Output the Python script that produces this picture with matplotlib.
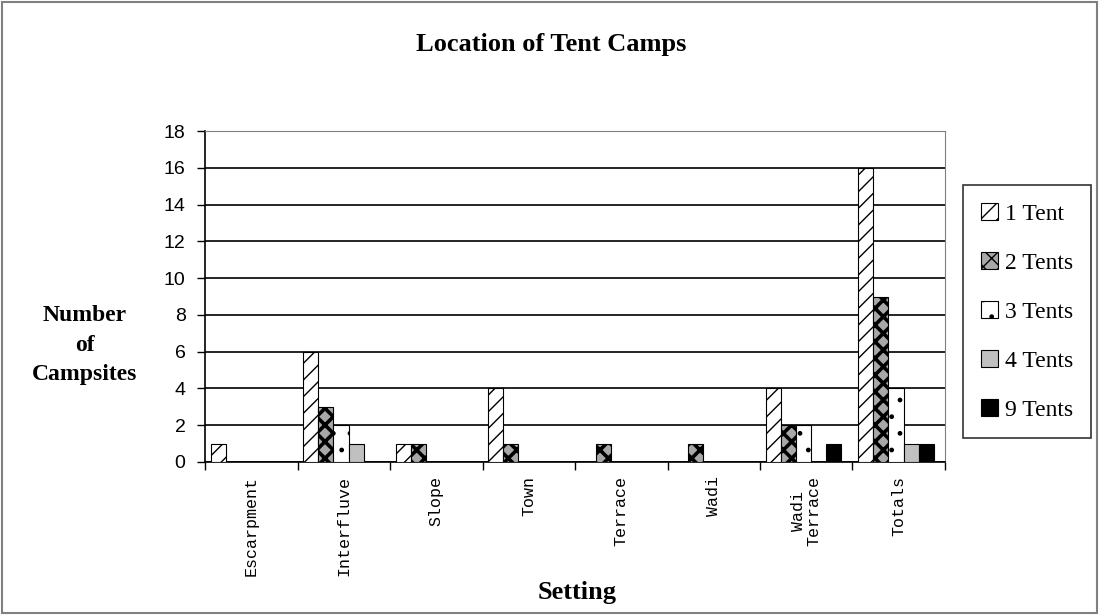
import matplotlib
matplotlib.use("Agg")
import matplotlib.pyplot as plt
import numpy as np

plt.rcParams['font.family'] = ['Liberation Serif', 'DejaVu Serif']

settings = ["Escarpment", "Interfluve", "Slope", "Town", "Terrace", "Wadi", "Wadi\nTerrace", "Totals"]
series_names = ["1 Tent", "2 Tents", "3 Tents", "4 Tents", "9 Tents"]
one_tent = [1, 6, 1, 4, 0, 0, 4, 16]
two_tents = [0, 3, 1, 1, 1, 1, 2, 9]
three_tents = [0, 2, 0, 0, 0, 0, 2, 4]
four_tents = [0, 1, 0, 0, 0, 0, 0, 1]
nine_tents = [0, 0, 0, 0, 0, 0, 1, 1]
yticks = [0, 2, 4, 6, 8, 10, 12, 14, 16, 18]

all_series = [one_tent, two_tents, three_tents, four_tents, nine_tents]
# (facecolor, hatch, hatch linewidth)
styles = [
    ("white", "//", 1.0),
    ("#a8a8a8", "xx", 2.6),
    ("white", ".", 1.0),
    ("#c0c0c0", None, 1.0),
    ("black", None, 1.0),
]

fig = plt.figure(figsize=(10.99, 6.15), dpi=100)
ax = fig.add_axes([205 / 1099, 1 - 462 / 615, 740 / 1099, 331 / 615])

x = np.arange(len(settings))
w = 0.163
for i, (vals, st) in enumerate(zip(all_series, styles)):
    plt.rcParams['hatch.linewidth'] = st[2]
    ax.bar(x - 2 * w + i * w - 0.03, vals, width=w, facecolor=st[0], hatch=st[1],
           edgecolor="black", linewidth=0.8, label=series_names[i], zorder=3)

ax.set_xlim(-0.5, len(settings) - 0.5)
ax.set_ylim(0, 18)
ax.set_yticks(yticks)
ax.set_yticklabels([str(v) for v in yticks], fontsize=14, family="Liberation Sans")
ax.yaxis.grid(True, color="black", linewidth=1.2, zorder=0)
ax.set_axisbelow(True)

ax.set_xticks(np.arange(len(settings) + 1) - 0.5)
ax.set_xticklabels([])
ax.tick_params(axis="x", direction="out", length=6, width=1)
ax.tick_params(axis="y", direction="out", length=6, width=1, pad=8)
for i, name in enumerate(settings):
    ax.text(i, -0.75, name, rotation=90, ha="center", va="top", fontsize=12,
            family="Liberation Mono", multialignment="center", linespacing=1.1)

for side in ["top", "right"]:
    ax.spines[side].set_color("#808080")
for side in ["left", "bottom"]:
    ax.spines[side].set_color("black")
    ax.spines[side].set_linewidth(1.2)

fig.text(551 / 1099, 1 - 45 / 615, "Location of Tent Camps", ha="center", va="center",
         fontsize=19, fontweight="bold")
fig.text(85 / 1099, 1 - 345 / 615, "Number\nof\nCampsites", ha="center", va="center",
         fontsize=17, fontweight="bold", linespacing=1.55)
fig.text(577 / 1099, 1 - 592 / 615, "Setting", ha="center", va="center",
         fontsize=19, fontweight="bold")

leg = fig.legend(loc="upper left", bbox_to_anchor=(963 / 1099, 1 - 185 / 615), fontsize=17,
                 frameon=True, fancybox=False, edgecolor="black", handlelength=0.75,
                 handleheight=0.75, handletextpad=0.3, labelspacing=1.15, borderpad=0.75,
                 borderaxespad=0)
leg.get_frame().set_linewidth(1.2)

border = plt.Rectangle((0.002, 0.003), 0.996, 0.994, transform=fig.transFigure,
                       fill=False, edgecolor="#808080", linewidth=1.5)
fig.patches.append(border)

fig.savefig("out.png", dpi=100)
